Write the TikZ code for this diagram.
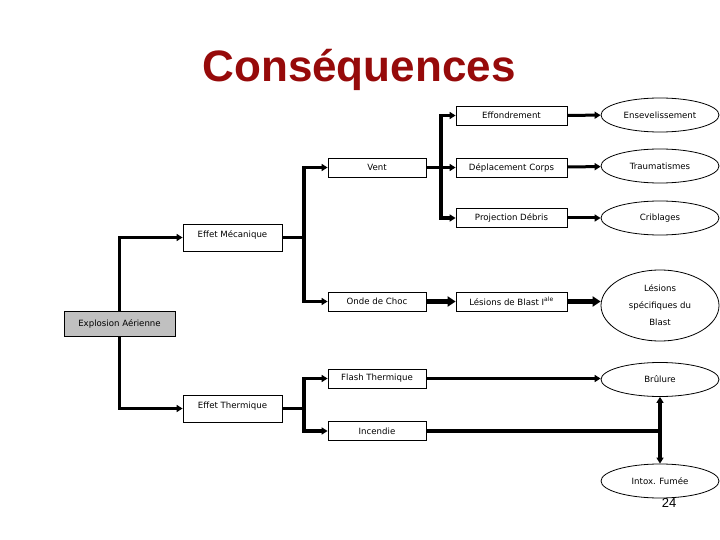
\documentclass[tikz,border=0pt]{standalone}
\usepackage{fontspec}
\setmainfont{DejaVu Sans}
\newfontfamily\titlefont{Liberation Sans}
\usetikzlibrary{arrows.meta, shapes.geometric}
\definecolor{titlered}{RGB}{150,10,10}
\definecolor{rootgray}{RGB}{192,192,192}
\tikzset{
  box/.style={draw, line width=0.8pt, fill=white, minimum width=98pt, minimum height=19pt,
    inner sep=1pt, font=\fontsize{8.6}{10}\selectfont},
  widebox/.style={box, minimum width=111pt},
  outcome/.style={ellipse, draw, line width=0.8pt, fill=white, minimum width=118pt, minimum height=34pt,
    inner sep=0pt, align=center, font=\fontsize{8.6}{17}\selectfont},
  trunk/.style={line width=3.5pt},
  link/.style={trunk, -{Triangle[length=6pt,width=7pt]}},
  biglink/.style={line width=4.5pt, -{Triangle[length=8pt,width=10pt]}}
}

\begin{document}
\begin{tikzpicture}[x=1pt, y=-1pt]
  \useasboundingbox (0,0) rectangle (720,540);
  % Title
  \node[anchor=base, font=\titlefont\bfseries\fontsize{44}{48}\selectfont, text=titlered] (title) at (359,82) {Conséquences};

  % Define the boxes
  \node[box, fill=rootgray, minimum width=111pt, minimum height=25pt] (expl) at (119.5,323.5) {Explosion Aérienne};
  \node[box, minimum width=99pt, minimum height=27pt, text depth=6pt] (meca) at (232.5,237.5) {Effet Mécanique};
  \node[box, minimum width=99pt, minimum height=27pt, text depth=6pt] (therm) at (232.5,408.5) {Effet Thermique};
  \node[box] (vent) at (377,167.5) {Vent};
  \node[box] (onde) at (377,301.5) {Onde de Choc};
  \node[box] (flash) at (377,378.5) {Flash Thermique};
  \node[box] (incendie) at (377,431) {Incendie};
  \node[widebox] (effond) at (511.5,115.5) {Effondrement};
  \node[widebox] (deplac) at (511.5,167.5) {Déplacement Corps};
  \node[widebox] (project) at (511.5,218) {Projection Débris};
  \node[widebox] (lesblast) at (511.5,301.5) {Lésions de Blast I\textsuperscript{ale}};

  % Define the outcomes
  \node[outcome] (ensev) at (660,115) {Ensevelissement};
  \node[outcome] (trauma) at (660,166) {Traumatismes};
  \node[outcome] (crib) at (660,218) {Criblages};
  \node[outcome, minimum height=71pt] (specif) at (660,305.5) {Lésions\\spécifiques du\\Blast};
  \node[outcome] (brulure) at (660,379.5) {Brûlure};
  \node[outcome] (intox) at (660,481) {Intox. Fumée};
  \node[font=\titlefont\fontsize{13}{15}\selectfont] (page) at (669,503) {24};

  % Junctions
  \coordinate (mecaj) at (304,237.5);
  \coordinate (ventj) at (441,167.5);
  \coordinate (thermj) at (304,408.5);
  \coordinate (incj) at (brulure.south |- incendie.east);

  % Connectors
  \draw[link] (expl.north) |- (meca.west);
  \draw[link] (expl.south) |- (therm.west);
  \draw[link] (meca.east) -- (mecaj) |- (vent.west);
  \draw[link] (mecaj) |- (onde.west);
  \draw[link] (vent.east) -- (ventj) |- (effond.west);
  \draw[link] (ventj) -- (deplac.west);
  \draw[link] (ventj) |- (project.west);
  \draw[biglink] (onde) -- (lesblast);
  \draw[biglink] (lesblast.east) -- (specif.west |- lesblast.east);
  \draw[link, line width=3pt] (effond) -- (ensev);
  \draw[link, line width=3pt] (deplac) -- (trauma);
  \draw[link, line width=3pt] (project) -- (crib);
  \draw[link] (therm.east) -- (thermj) |- (flash.west);
  \draw[link] (thermj) |- (incendie.west);
  \draw[link, line width=3pt] (flash.east) -- (brulure.west |- flash.east);
  \draw[trunk] (incendie.east) -- (incj);
  \draw[trunk, {Triangle[length=6pt,width=7pt]}-{Triangle[length=6pt,width=7pt]}] (brulure.south) -- (intox.north);
\end{tikzpicture}
\end{document}
